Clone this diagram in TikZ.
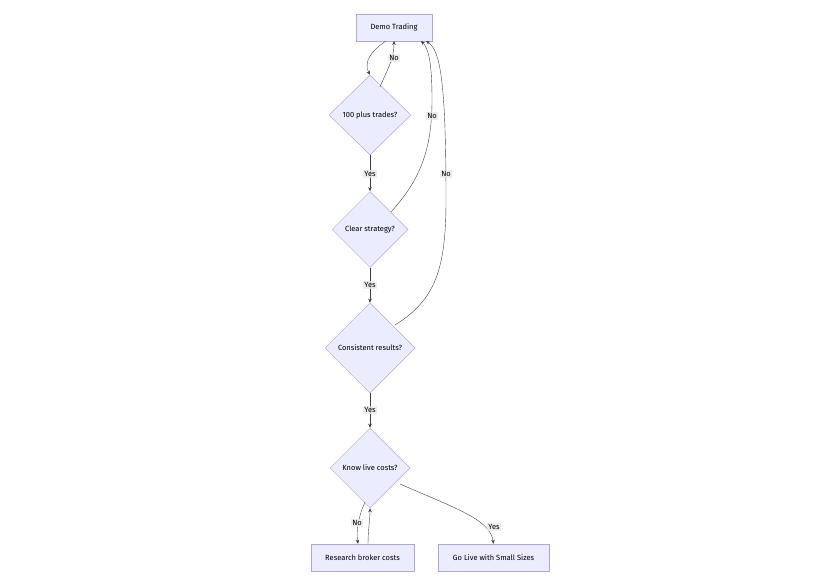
\documentclass[tikz,border=0pt]{standalone}
\usepackage{fontspec}
\setmainfont{Fira Sans}
\usetikzlibrary{shapes.geometric,arrows.meta}
\definecolor{nf}{HTML}{ECECFF}
\definecolor{ns}{HTML}{B4A2E6}
\definecolor{lb}{HTML}{E8E8E8}
\begin{document}
\begin{tikzpicture}[x=1pt,y=-1pt,
 box/.style={draw=ns,fill=nf,line width=0.5pt,font=\fontsize{7.5}{9}\selectfont,minimum height=27pt,inner xsep=9pt},
 dia/.style={draw=ns,fill=nf,line width=0.5pt,diamond,font=\fontsize{7.5}{9}\selectfont,inner sep=0pt},
 lbl/.style={fill=lb,fill opacity=0.8,text opacity=1,font=\fontsize{7.5}{9}\selectfont,inner sep=1pt},
 e/.style={draw=black!75,line width=0.4pt,-{Stealth[length=4pt,width=3.5pt]}}]
\useasboundingbox (0,0) rectangle (835,585);
\node[box,minimum width=76pt] (demo) at (394,27.5) {Demo Trading};
\node[dia,minimum width=82pt,minimum height=80pt] (d1) at (370,115) {100 plus trades?};
\node[dia,minimum width=76pt,minimum height=76pt] (d2) at (370,229.5) {Clear strategy?};
\node[dia,minimum width=90pt,minimum height=90pt] (d3) at (370,348) {Consistent results?};
\node[dia,minimum width=80pt,minimum height=80pt] (d4) at (370,468) {Know live costs?};
\node[box,minimum width=103pt] (rb) at (362.5,557.5) {Research broker costs};
\node[box,minimum width=111pt] (gl) at (493.5,557.5) {Go Live with Small Sizes};
\coordinate (a1) at (386,41);
\coordinate (a2) at (394,41);
\coordinate (a3) at (421,41);
\coordinate (a4) at (426,41);
\draw[e] (a1) .. controls (372,50) and (363,62) .. (d1.north);
\draw[e] (380,87) .. controls (386,72) and (394,60) .. (a2);
\draw[e] (d1.south) -- (d2.north);
\draw[e] (391,212) .. controls (420,180) and (432,150) .. (432,100) .. controls (432,60) and (428,48) .. (a3);
\draw[e] (d2.south) -- (d3.north);
\draw[e] (395,325) .. controls (435,300) and (446,270) .. (446,200) .. controls (446,80) and (440,50) .. (a4);
\draw[e] (d3.south) -- (d4.north);
\draw[e] (365,502) .. controls (359,515) and (356,530) .. (rb.north -| 358,0);
\draw[e] (368,544) .. controls (368,530) and (370,520) .. (d4.south);
\draw[e] (400,484) .. controls (460,510) and (490,520) .. (gl.north);
\node[lbl] (l1) at (394,58) {No};
\node[lbl] (l2) at (370,174) {Yes};
\node[lbl] (l3) at (432,116) {No};
\node[lbl] (l4) at (370,285) {Yes};
\node[lbl] (l5) at (446,174) {No};
\node[lbl] (l6) at (370,410) {Yes};
\node[lbl] (l7) at (357,523) {No};
\node[lbl] (l8) at (494,527) {Yes};
\end{tikzpicture}
\end{document}
